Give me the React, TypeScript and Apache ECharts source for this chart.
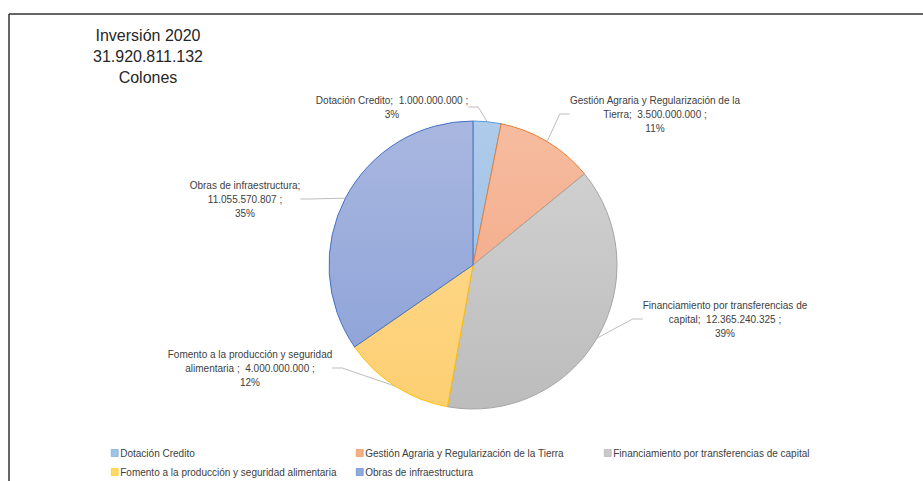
import React, { useEffect, useRef } from "react";
import * as echarts from "echarts";

const categories = [
  "Dotación Credito",
  "Gestión Agraria y Regularización de la Tierra",
  "Financiamiento por transferencias de capital",
  "Fomento a la producción y seguridad alimentaria",
  "Obras de infraestructura",
];
const values = [1000000000, 3500000000, 12365240325, 4000000000, 11055570807];
// how each data label's name part is wrapped (first line / remaining text)
const nameWrap = [
  ["Dotación Credito;", ""],
  ["Gestión Agraria y Regularización de la", "Tierra;"],
  ["Financiamiento por transferencias de", "capital;"],
  ["Fomento a la producción y seguridad", "alimentaria ;"],
  ["Obras de infraestructura;", ""],
];
const titleLines = ["Inversión 2020", "Colones"];

const topColors = ["#aecbea", "#f6bc9f", "#d4d4d4", "#fedc96", "#a9b7e0"];
const bottomColors = ["#95b8e1", "#f2a380", "#bcbcbc", "#fdcf72", "#8aa0d7"];
const borderColors = ["#5b9bd5", "#ed7d31", "#a5a5a5", "#ffc000", "#4472c4"];
const legendColors = ["#9dc3e6", "#f4b183", "#c9c9c9", "#ffd966", "#8faadc"];
const labelPos = [
  [392, 107],
  [655, 114],
  [725, 319],
  [250, 368],
  [245, 199],
];
const legendPos = [
  [111, 448],
  [356, 448],
  [604, 448],
  [111, 467],
  [356, 467],
];

const fmt = (v: number) => String(v).replace(/\B(?=(\d{3})+(?!\d))/g, ".");

// largest-remainder rounding of percentages (sum = 100)
function roundedPercents(vals: number[]) {
  const total = vals.reduce((a, b) => a + b, 0);
  const raw = vals.map((v) => (v / total) * 100);
  const fl = raw.map(Math.floor);
  let left = 100 - fl.reduce((a, b) => a + b, 0);
  const order = raw
    .map((v, i) => [v - Math.floor(v), i])
    .sort((a, b) => b[0] - a[0]);
  for (let k = 0; k < order.length && left > 0; k++, left--) fl[order[k][1]] += 1;
  return fl;
}

export default function App() {
  const ref = useRef<HTMLDivElement>(null);
  useEffect(() => {
    if (!ref.current) return;
    const chart = echarts.init(ref.current, undefined, { renderer: "svg" });
    const total = values.reduce((a, b) => a + b, 0);
    const pcts = roundedPercents(values);
    const font = "'Liberation Sans', Arial, sans-serif";
    const cx = 473, cy = 265, r = 144;
    const data = categories.map((name, i) => ({
      name,
      value: values[i],
      itemStyle: {
        color: new echarts.graphic.LinearGradient(0, cy - r, 0, cy + r, [
          { offset: 0, color: topColors[i] },
          { offset: 1, color: bottomColors[i] },
        ], true),
        borderColor: borderColors[i],
        borderWidth: 1,
      },
    }));
    const legends = categories.map((name, i) => ({
      left: legendPos[i][0],
      top: legendPos[i][1],
      icon: "rect",
      itemWidth: 7,
      itemHeight: 7,
      selectedMode: false,
      padding: 0,
      textStyle: { fontSize: 10, fontFamily: font, color: "#404040", padding: [0, 0, 0, -3] },
      data: [{ name, itemStyle: { color: legendColors[i], borderColor: borderColors[i], borderWidth: 0.5 } }],
    }));
    chart.setOption({
      animation: false,
      backgroundColor: "#ffffff",
      title: {
        text: `${titleLines[0]}\n${fmt(total)}\n${titleLines[1]}`,
        left: 143,
        top: 20,
        textAlign: "center",
        textStyle: {
          fontFamily: font,
          fontSize: 16,
          fontWeight: "normal",
          color: "#262626",
          lineHeight: 21,
          align: "center",
        },
      },
      graphic: [
        { type: "line", shape: { x1: 9, y1: 14, x2: 923, y2: 14 }, style: { stroke: "#333", lineWidth: 1.5 } },
        { type: "line", shape: { x1: 9, y1: 14, x2: 9, y2: 481 }, style: { stroke: "#333", lineWidth: 1.5 } },
      ],
      legend: legends,
      series: [
        {
          type: "pie",
          center: [cx, cy],
          radius: r,
          startAngle: 90,
          clockwise: true,
          data,
          label: {
            show: true,
            fontFamily: font,
            fontSize: 10,
            lineHeight: 14,
            color: "#404040",
            align: "center",
            formatter: (p: any) => {
              const w = nameWrap[p.dataIndex];
              const v = fmt(p.value);
              const pct = `${pcts[p.dataIndex]}%`;
              if (p.dataIndex === 0) return `${w[0]}  ${v} ;\n${pct}`;
              if (p.dataIndex === 4) return `${w[0]}\n${v} ;\n${pct}`;
              return `${w[0]}\n${w[1]}  ${v} ;\n${pct}`;
            },
          },
          labelLine: {
            show: true,
            length: 10,
            length2: 10,
            lineStyle: { color: "#a6a6a6", width: 0.75 },
          },
          labelLayout: (params: any) => {
            const pos = labelPos[params.dataIndex];
            return { x: pos[0], y: pos[1], align: "center", verticalAlign: "middle" };
          },
        },
      ],
    });
    return () => chart.dispose();
  }, []);
  return (
    <div
      ref={ref}
      style={{ position: "fixed", left: 0, top: 0, width: 923, height: 481 }}
    />
  );
}
